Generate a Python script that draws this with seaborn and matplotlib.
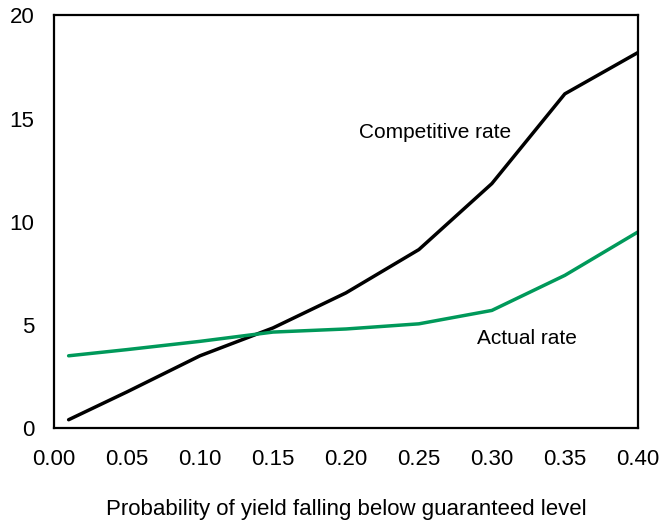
import pandas as pd
import seaborn as sns
import matplotlib.pyplot as plt

# values
prob = [0.01, 0.05, 0.10, 0.15, 0.20, 0.25, 0.30, 0.35, 0.40]
competitive = [0.4, 1.75, 3.5, 4.85, 6.55, 8.65, 11.85, 16.2, 18.2]
actual = [3.5, 3.8, 4.2, 4.65, 4.8, 5.05, 5.7, 7.4, 9.5]

df = pd.DataFrame({'Probability': prob * 2,
                   'Rate': competitive + actual,
                   'Series': ['Competitive rate'] * len(prob) + ['Actual rate'] * len(prob)})

sns.set_theme(style="white")
plt.rcParams['font.family'] = ['Liberation Sans', 'DejaVu Sans']
plt.rcParams['text.color'] = 'black'

fig = plt.figure(figsize=(6.63, 5.25), dpi=100)
ax = fig.add_axes([0.0815, 0.1848, 0.8805, 0.7857])

sns.lineplot(data=df, x='Probability', y='Rate', hue='Series',
             palette={'Competitive rate': 'black', 'Actual rate': '#00995a'},
             linewidth=2.5, legend=False, ax=ax)

ax.text(0.209, 14.35, 'Competitive rate', fontsize=15, va='center', ha='left', color='black')
ax.text(0.29, 4.35, 'Actual rate', fontsize=15, va='center', ha='left', color='black')

ax.set_xlim(0, 0.4)
ax.set_ylim(0, 20)
ax.set_xticks([0.0, 0.05, 0.10, 0.15, 0.20, 0.25, 0.30, 0.35, 0.40])
ax.set_xticklabels(['0.00', '0.05', '0.10', '0.15', '0.20', '0.25', '0.30', '0.35', '0.40'])
ax.set_yticks([0, 5, 10, 15, 20])

for s in ax.spines.values():
    s.set_linewidth(1.6)
    s.set_color('black')

ax.tick_params(axis='both', direction='in', length=7, width=1, colors='black',
               labelsize=16, top=False, right=False)
ax.tick_params(axis='x', pad=15)
ax.tick_params(axis='y', pad=14)

ax.set_xlabel('Probability of yield falling below guaranteed level', fontsize=16,
              labelpad=21, color='black')
ax.set_ylabel(None)

plt.savefig('out.png', dpi=100)
plt.close()
